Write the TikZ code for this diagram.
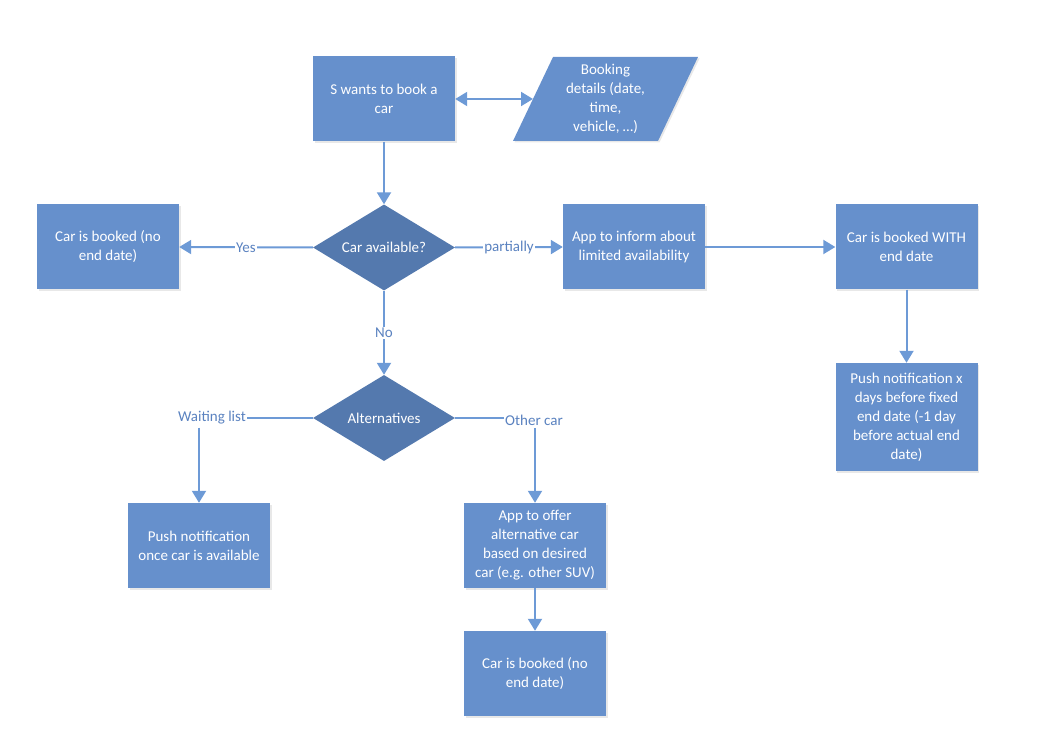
\documentclass[tikz,border=0pt]{standalone}
\usepackage{fontspec}
\setmainfont{Carlito}
\usetikzlibrary{shapes.geometric,arrows.meta,shadows}
\definecolor{boxfill}{HTML}{6690CC}
\definecolor{diafill}{HTML}{5479AE}
\definecolor{linec}{HTML}{6D9AD6}
\definecolor{labc}{HTML}{5A82C0}
\tikzset{
  base/.style={font=\fontsize{15}{19}\selectfont, text=white, align=center, inner sep=0pt},
  procbox/.style={base, rectangle, fill=boxfill, minimum width=142pt, minimum height=85pt,
    drop shadow={opacity=0.18, shadow xshift=1.5pt, shadow yshift=-1.5pt}},
  decision/.style={base, diamond, fill=diafill, minimum width=142pt, minimum height=86pt, aspect=1.65},
  conn/.style={draw=linec, line width=2pt},
  arr/.style={conn, -{Triangle[length=12pt,width=14pt]}},
  lab/.style={font=\fontsize{15}{19}\selectfont, text=labc, fill=white, inner sep=1pt}
}
\begin{document}
\begin{tikzpicture}[x=1pt,y=-1pt]
\useasboundingbox (0,0) rectangle (1041,735);
% nodes
\node[procbox] (want) at (384,99) {S wants to book a\\car};
\fill[boxfill, drop shadow={opacity=0.18, shadow xshift=1.5pt, shadow yshift=-1.5pt}] (513,141) -- (553,57) -- (698,57) -- (658,141) -- cycle;
\node[base] (book) at (605.5,98.5) {Booking\\details (date,\\time,\\vehicle, \dots)};
\coordinate (bookW) at (533,99);
\node[decision] (avail) at (384,247.5) {Car available?};
\node[procbox] (bookedL) at (108,247) {Car is booked (no\\end date)};
\node[procbox] (inform) at (634,247) {App to inform about\\limited availability};
\node[procbox] (with) at (906.5,247) {Car is booked WITH\\end date};
\node[procbox, minimum height=108pt] (pushx) at (906.5,417) {Push notification x\\days before fixed\\end date (-1 day\\before actual end\\date)};
\node[decision] (alt) at (384,418) {Alternatives};
\node[procbox] (pushonce) at (199,545.5) {Push notification\\once car is available};
\node[procbox] (offer) at (535,545.5) {App to offer\\alternative car\\based on desired\\car (e.g. other SUV)};
\node[procbox] (bookedB) at (535,673.5) {Car is booked (no\\end date)};
% labels
\node[lab] (wl) at (212,418) {Waiting list};
\node[lab] (oc) at (534,420) {Other car};
% connectors
\draw[conn, {Triangle[length=12pt,width=14pt]}-{Triangle[length=12pt,width=14pt]}] (want.east |- bookW) -- (bookW);
\draw[arr] (want.south) -- (avail.north);
\draw[arr] (avail.west) -- node[lab] {Yes} (bookedL.east);
\draw[arr] (avail.east) -- node[lab] {partially} (inform.west);
\draw[arr] (inform.east) -- (with.west);
\draw[arr] (with.south) -- (pushx.north);
\draw[arr] (avail.south) -- node[lab] {No} (alt.north);
\draw[conn] (alt.west) -- (wl.east |- alt.west);
\draw[arr] ([yshift=-2pt]wl.south -| pushonce.north) -- (pushonce.north);
\draw[conn] (alt.east) -- (oc.west |- alt.east);
\draw[arr] ([yshift=-2pt]oc.south -| offer.north) -- (offer.north);
\draw[arr] (offer.south) -- (bookedB.north);
\end{tikzpicture}
\end{document}
